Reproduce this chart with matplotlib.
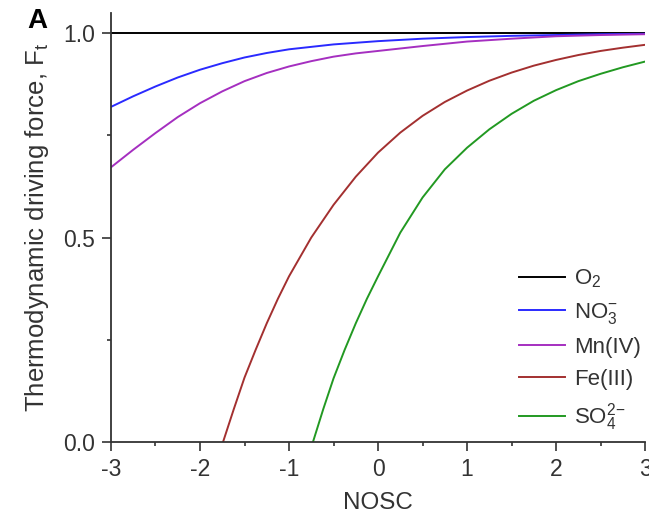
import matplotlib
matplotlib.use('Agg')
import matplotlib.pyplot as plt
from matplotlib.ticker import MultipleLocator

plt.rcParams['font.family'] = ['Liberation Sans', 'DejaVu Sans']
plt.rcParams['mathtext.fontset'] = 'custom'
plt.rcParams['mathtext.rm'] = 'Liberation Sans'
plt.rcParams['mathtext.it'] = 'Liberation Sans:italic'
plt.rcParams['axes.unicode_minus'] = False

# values (NOSC vs thermodynamic driving force)
o2_x = [-3.0, 3.0]
o2_y = [1.0, 1.0]

no3_x = [-3.0, -2.75, -2.5, -2.25, -2.0, -1.75, -1.5, -1.25, -1.0, -0.5, 0.0, 0.5, 1.0, 1.5, 2.0, 2.5, 3.0]
no3_y = [0.820, 0.846, 0.870, 0.892, 0.911, 0.927, 0.941, 0.952, 0.961, 0.973, 0.981, 0.987, 0.991,
         0.994, 0.996, 0.998, 0.999]

mn_x = [-3.0, -2.75, -2.5, -2.25, -2.0, -1.75, -1.5, -1.25, -1.0, -0.75, -0.5, -0.25, 0.0,
        0.5, 1.0, 1.5, 2.0, 2.5, 3.0]
mn_y = [0.672, 0.715, 0.756, 0.795, 0.829, 0.858, 0.883, 0.903, 0.919, 0.932, 0.943, 0.951, 0.957,
        0.969, 0.980, 0.987, 0.993, 0.996, 0.998]

fe_x = [-1.74, -1.62, -1.5, -1.375, -1.25, -1.125, -1.0, -0.75, -0.5, -0.25, 0.0, 0.25, 0.5, 0.75,
        1.0, 1.25, 1.5, 1.75, 2.0, 2.25, 2.5, 2.75, 3.0]
fe_y = [0.0, 0.080, 0.157, 0.225, 0.290, 0.350, 0.405, 0.500, 0.580, 0.649, 0.708, 0.757, 0.798, 0.832,
        0.860, 0.884, 0.904, 0.921, 0.935, 0.947, 0.957, 0.965, 0.972]

so4_x = [-0.73, -0.615, -0.5, -0.375, -0.25, -0.125, 0.0, 0.25, 0.5, 0.75, 1.0, 1.25, 1.5, 1.75,
         2.0, 2.25, 2.5, 2.75, 3.0]
so4_y = [0.0, 0.080, 0.155, 0.225, 0.290, 0.350, 0.405, 0.512, 0.598, 0.667, 0.720, 0.765, 0.803, 0.835,
         0.861, 0.883, 0.901, 0.917, 0.931]

fig = plt.figure(figsize=(6.49, 5.19), dpi=100)
ax = fig.add_axes([0.171, 0.149, 0.823, 0.826])

ax.plot(o2_x, o2_y, color='#000000', lw=1.4, label=r'O$_\mathrm{2}$')
ax.plot(no3_x, no3_y, color='#2a2aff', lw=1.4, label=r'NO$_\mathrm{3}^{-}$')
ax.plot(mn_x, mn_y, color='#a52fc0', lw=1.4, label='Mn(IV)')
ax.plot(fe_x, fe_y, color='#a33030', lw=1.4, label='Fe(III)')
ax.plot(so4_x, so4_y, color='#229922', lw=1.4, label=r'SO$_\mathrm{4}^{2\mathrm{-}}$')

ax.set_xlim(-3, 3)
ax.set_ylim(0, 1.05)
ax.xaxis.set_major_locator(MultipleLocator(1))
ax.xaxis.set_minor_locator(MultipleLocator(0.5))
ax.yaxis.set_major_locator(MultipleLocator(0.5))
ax.yaxis.set_minor_locator(MultipleLocator(0.25))
ax.set_yticks([0.0, 0.5, 1.0])
ax.set_yticklabels(['0.0', '0.5', '1.0'])

for s in ['top', 'right']:
    ax.spines[s].set_visible(False)
for s in ['left', 'bottom']:
    ax.spines[s].set_linewidth(1.3)
    ax.spines[s].set_color('#333333')

ax.tick_params(which='major', direction='out', length=6.5, width=1.2, labelsize=16.5,
               colors='#333333', labelcolor='#333333', pad=5)
ax.tick_params(which='minor', direction='out', length=3, width=1.2, colors='#333333')

ax.set_xlabel('NOSC', fontsize=17.5, color='#333333', labelpad=8)
ax.set_ylabel(r'Thermodynamic driving force, F$_\mathrm{t}$', fontsize=18.5, color='#333333',
              labelpad=9)

leg = ax.legend(loc='lower right', frameon=False, fontsize=16, handlelength=2.1,
                handletextpad=0.4, labelspacing=0.5, bbox_to_anchor=(1.03, -0.027))
for t in leg.get_texts():
    t.set_color('#333333')

fig.text(0.057, 0.960, 'A', fontsize=20, fontweight='bold', ha='center', va='center')

fig.savefig('out.png', dpi=100)
